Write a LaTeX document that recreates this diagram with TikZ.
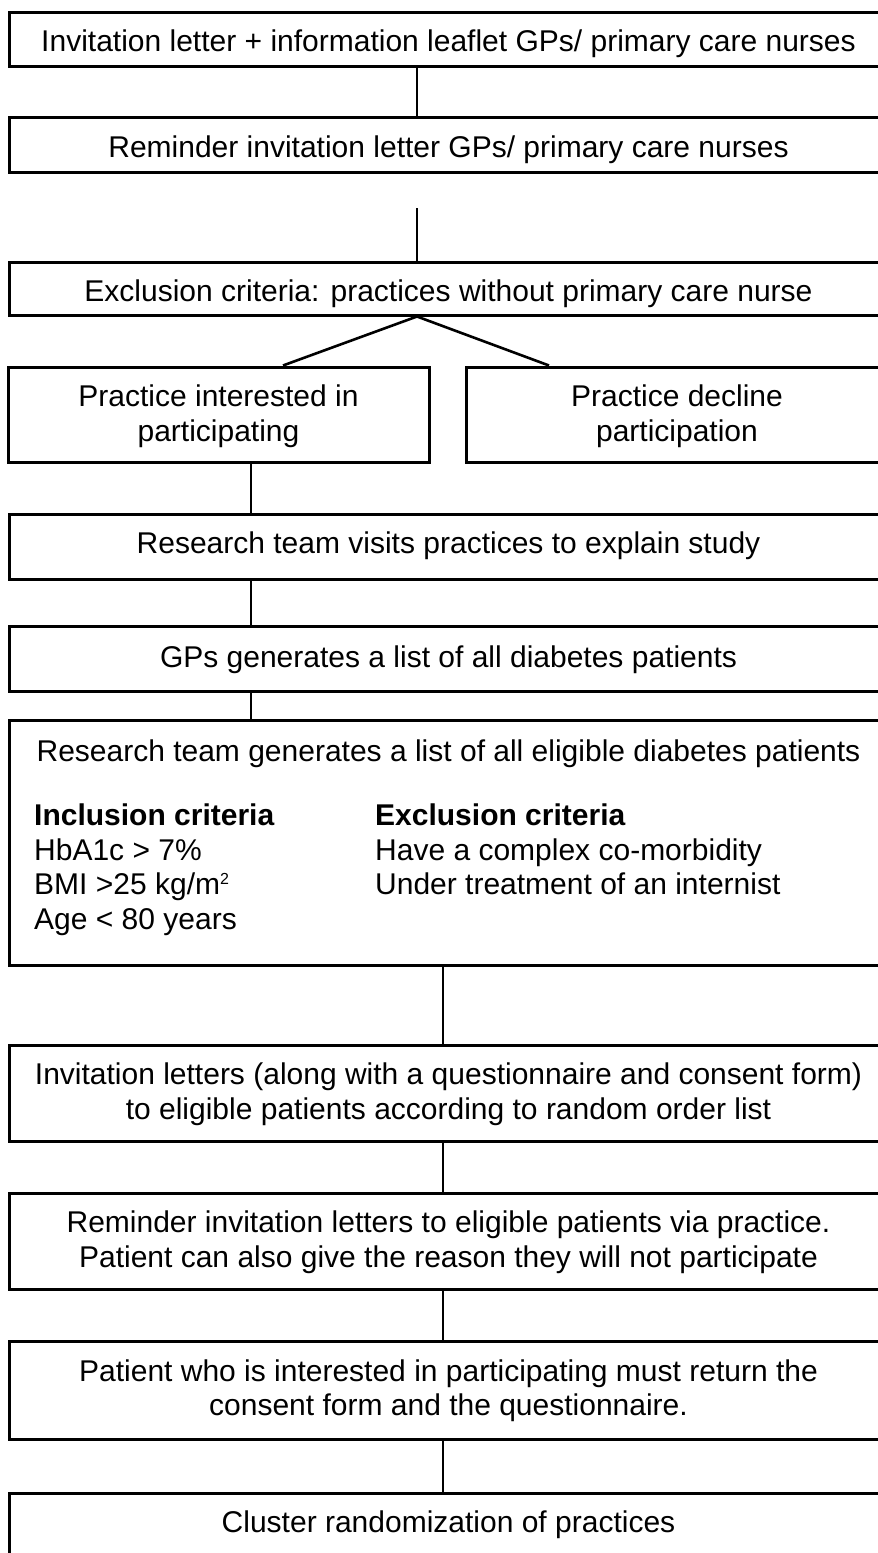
\documentclass[tikz,border=0pt]{standalone}
\usepackage{fontspec}
\setmainfont{Liberation Sans}
\usetikzlibrary{positioning}

\tikzset{
  stepbox/.style={draw, line width=3pt, minimum width=879pt, inner sep=0pt},
  halfbox/.style={stepbox, minimum width=421pt},
  boxtext/.style={inner sep=0pt, align=center, font=\fontsize{30pt}{34.5pt}\selectfont},
  link/.style={line width=2.6pt},
}
\newcommand{\sqsup}[1]{{\fontsize{16pt}{16pt}\selectfont\raisebox{10pt}{#1}}}

\begin{document}
\begin{tikzpicture}[x=1pt, y=-1pt]
  \useasboundingbox (0,0) rectangle (878,1553);

  \coordinate (topspine) at (417,0);
  \coordinate (midspine) at (251,0);
  \coordinate (lowspine) at (443,0);
  \coordinate (leftfork) at (283,0);
  \coordinate (rightfork) at (549,0);
  \coordinate (gapend) at (417,208);

  \node[stepbox, minimum height=54pt] (invite) at (448.5,39) {};
  \node[boxtext, below=19.5pt of invite.north] (invite-t) {Invitation letter + information leaflet GPs/ primary care nurses};

  \node[stepbox, minimum height=55pt] (remind) at (448.5,144.5) {};
  \node[boxtext, below=20pt of remind.north] (remind-t) {Reminder invitation letter GPs/ primary care nurses};

  \node[stepbox, minimum height=53pt] (excl) at (448.5,288.5) {};
  \node[boxtext, below=19.5pt of excl.north] (excl-t) {Exclusion criteria: practices without primary care nurse};

  \node[halfbox, minimum height=95pt] (interest) at (218.5,414.5) {};
  \node[boxtext, below=19.5pt of interest.north] (interest-t) {Practice interested in\\participating};
  \node[halfbox, minimum width=422pt, minimum height=95pt] (decline) at (677,414.5) {};
  \node[boxtext, below=19.5pt of decline.north] (decline-t) {Practice decline\\participation};

  \node[stepbox, minimum height=65pt] (visit) at (448.5,546.5) {};
  \node[boxtext, below=19.5pt of visit.north] (visit-t) {Research team visits practices to explain study};

  \node[stepbox, minimum height=65pt] (gplist) at (448.5,658.5) {};
  \node[boxtext, below=21pt of gplist.north] (gplist-t) {GPs generates a list of all diabetes patients};

  \node[stepbox, minimum height=245pt] (elig) at (448.5,842.5) {};
  \node[boxtext, below=21pt of elig.north] (elig-t) {Research team generates a list of all eligible diabetes patients};
  \node[boxtext, align=left, anchor=north west] (incl) at (34,804)
    {\textbf{Inclusion criteria}\\HbA1c > 7\%\\BMI >25 kg/m\sqsup{2}\\Age < 80 years};
  \node[boxtext, align=left, anchor=north west] (exclpat) at (375,804)
    {\textbf{Exclusion criteria}\\Have a complex co-morbidity\\Under treatment of an internist};

  \node[stepbox, minimum height=96pt] (letters) at (448.5,1093) {};
  \node[boxtext, below=19.5pt of letters.north] (letters-t) {Invitation letters (along with a questionnaire and consent form)\\to eligible patients according to random order list};

  \node[stepbox, minimum height=96pt] (remindpat) at (448.5,1241) {};
  \node[boxtext, below=19.5pt of remindpat.north] (remindpat-t) {Reminder invitation letters to eligible patients via practice.\\Patient can also give the reason they will not participate};

  \node[stepbox, minimum height=98pt] (consent) at (448.5,1390) {};
  \node[boxtext, below=20pt of consent.north] (consent-t) {Patient who is interested in participating must return the\\consent form and the questionnaire.};

  \node[stepbox, minimum height=70pt] (cluster) at (448.5,1528) {};
  \node[boxtext, below=19.5pt of cluster.north] (cluster-t) {Cluster randomization of practices};

  \draw[link] (invite.south -| topspine) -- (remind.north -| topspine);
  \draw[link] (gapend) -- (excl.north -| topspine);
  \draw[link] (excl.south -| topspine) -- (interest.north -| leftfork);
  \draw[link] (excl.south -| topspine) -- (decline.north -| rightfork);
  \foreach \from/\to in {interest/visit, visit/gplist, gplist/elig}
    \draw[link] (\from.south -| midspine) -- (\to.north -| midspine);
  \foreach \from/\to in {elig/letters, letters/remindpat, remindpat/consent, consent/cluster}
    \draw[link] (\from.south -| lowspine) -- (\to.north -| lowspine);
\end{tikzpicture}
\end{document}
